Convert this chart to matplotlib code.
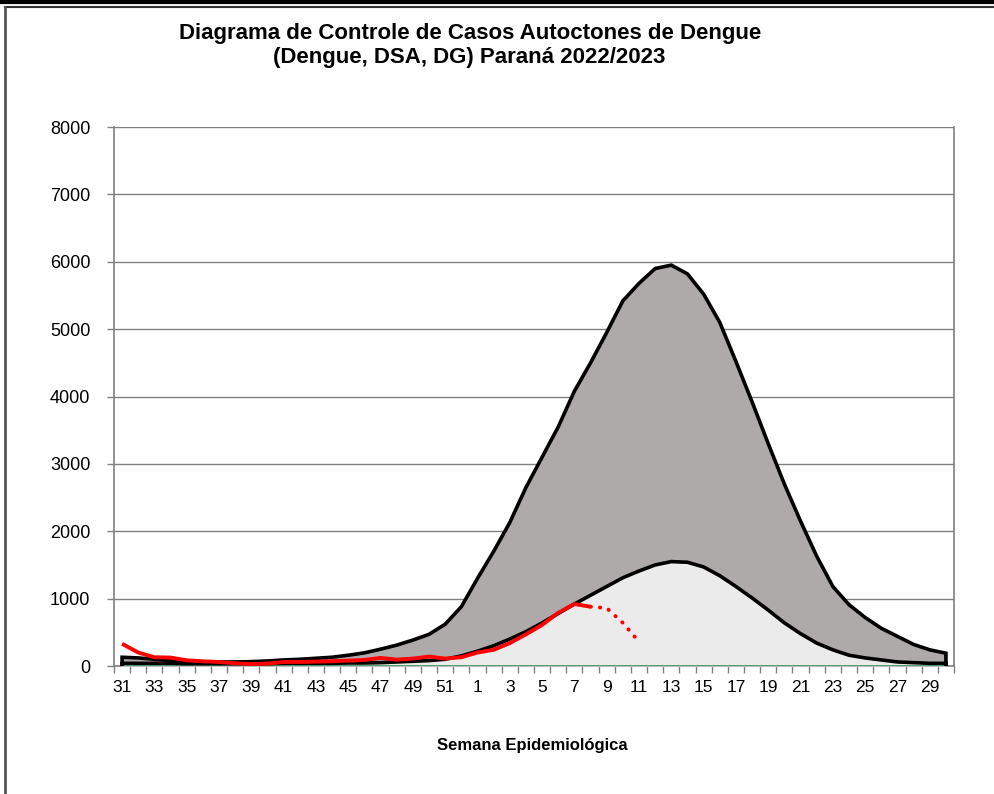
import numpy as np
import matplotlib
matplotlib.use("Agg")
from matplotlib import pyplot as plt
from matplotlib.lines import Line2D

plt.rcParams['font.family'] = ['Liberation Sans', 'DejaVu Sans']

weeks = list(range(31, 53)) + list(range(1, 31))

# limite superior (dark gray area)
upper = [130, 120, 100, 80, 70, 60, 60, 60, 65, 75, 90, 100, 115, 130, 160, 195,
         250, 310, 385, 470, 620, 880,
         1300, 1700, 2130, 2650, 3100, 3550, 4080, 4500, 4950, 5420, 5680, 5900,
         5950, 5820, 5520, 5100, 4520, 3920, 3300, 2700, 2150, 1630, 1180, 910,
         720, 560, 440, 320, 240, 190]

# mediana (light gray area)
median = [40, 40, 40, 40, 35, 35, 35, 35, 35, 35, 40, 40, 40, 40, 45, 45,
          50, 60, 70, 80, 100, 150,
          220, 300, 400, 510, 640, 780, 920, 1050, 1180, 1310, 1410, 1500,
          1550, 1540, 1470, 1340, 1180, 1010, 830, 640, 480, 340, 240, 160,
          120, 90, 60, 50, 40, 40]

# casos confirmados 2022/2023
cases = [330, 200, 130, 125, 85, 70, 60, 40, 30, 35, 60, 60, 65, 70, 80, 90,
         120, 95, 110, 140, 110, 130,
         200, 240, 340, 470, 610, 790, 920, 880]

# casos em investigacao (dotted)
cases_inv_weeks = [8, 9, 10, 11]
cases_inv = [880, 860, 640, 360]

lower = [0] * len(weeks)

x = np.arange(len(weeks))
x_cases = x[:len(cases)]
x_inv = [weeks.index(w, 22) for w in cases_inv_weeks]

fig = plt.figure(figsize=(9.95, 7.94), dpi=100)
ax = fig.add_axes([0.1146, 0.1612, 0.8442, 0.6788])

dark = '#aeaaa9'
light = '#ebebeb'

ax.fill_between(x, 0, upper, color=dark, lw=0, zorder=2)
ax.fill_between(x, 0, median, color=light, lw=0, zorder=3)
ax.plot(x, lower, color='#3d8f5a', lw=1.2, zorder=4)

# outlines (top + end edges)
ax.plot(np.r_[x[0], x, x[-1]], np.r_[0, upper, 0], color='black', lw=2.6, zorder=5,
        solid_joinstyle='miter')
ax.plot(np.r_[x[0], x, x[-1]], np.r_[0, median, 0], color='black', lw=2.6, zorder=5,
        solid_joinstyle='miter')

ax.plot(x_cases, cases, color='#ff0000', lw=2.8, zorder=6, solid_capstyle='butt')
ax.plot(x_inv, cases_inv, color='#ff0000', lw=2.8, zorder=6, linestyle=(0, (0.1, 2.3)),
        dash_capstyle='round')

ax.set_xlim(-0.5, len(weeks) - 0.5)
ax.set_ylim(0, 8000)
ax.set_yticks(np.arange(0, 8001, 1000))
ax.yaxis.grid(True, color='#808080', lw=1.0)
ax.set_axisbelow(True)

ax.set_xticks(x[::2])
ax.set_xticklabels([str(w) for w in weeks[::2]])
ax.set_xticks(np.arange(-0.5, len(weeks), 1), minor=True)
ax.tick_params(axis='x', which='major', length=0, pad=10, labelsize=12.5)
ax.tick_params(axis='x', which='minor', length=5, color='#808080', width=1)
ax.tick_params(axis='y', length=5, color='#808080', width=1, labelsize=13, pad=12)

for s in ['left', 'right', 'bottom']:
    ax.spines[s].set_color('#808080')
    ax.spines[s].set_linewidth(1.2)
ax.spines['top'].set_visible(False)

fig.text(0.472, 0.958, 'Diagrama de Controle de Casos Autoctones de Dengue',
         ha='center', va='center', fontsize=16, fontweight='bold')
fig.text(0.472, 0.928, '(Dengue, DSA, DG) Paraná 2022/2023',
         ha='center', va='center', fontsize=16, fontweight='bold')
fig.text(0.535, 0.061, 'Semana Epidemiológica', ha='center', va='center',
         fontsize=12, fontweight='bold')

# page frame
fig.add_artist(Line2D([0, 1], [0.998, 0.998], color='black', lw=3, transform=fig.transFigure))
fig.add_artist(Line2D([0.005, 1], [0.991, 0.991], color='#333333', lw=1.5, transform=fig.transFigure))
fig.add_artist(Line2D([0.005, 0.005], [0, 0.991], color='#555555', lw=2, transform=fig.transFigure))

fig.savefig('out.png', dpi=100)
